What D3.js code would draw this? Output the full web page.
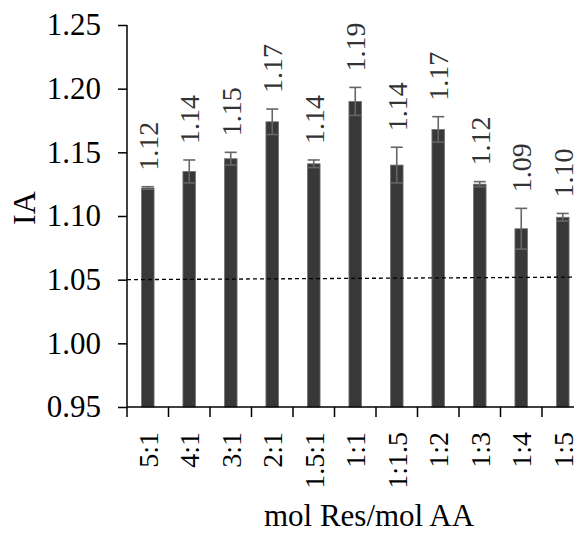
<!DOCTYPE html>
<html>
<head>
<meta charset="utf-8">
<script src="https://cdn.jsdelivr.net/npm/d3@7"></script>
<style>
  html, body { margin: 0; padding: 0; background: #fff; }
  svg { display: block; }
  svg text { font-family: "Liberation Serif", "Times New Roman", serif; }
</style>
</head>
<body>
<svg width="574" height="533"></svg>
<script>
// data
const ratios = ["5:1", "4:1", "3:1", "2:1", "1.5:1", "1:1", "1:1.5", "1:2", "1:3", "1:4", "1:5"];
const ia = [1.122, 1.135, 1.145, 1.174, 1.141, 1.190, 1.140, 1.168, 1.125, 1.090, 1.099];
const iaErr = [0.001, 0.009, 0.005, 0.010, 0.003, 0.011, 0.014, 0.010, 0.002, 0.016, 0.003];
const barLabels = ["1.12", "1.14", "1.15", "1.17", "1.14", "1.19", "1.14", "1.17", "1.12", "1.09", "1.10"];
const yTicks = [0.95, 1.00, 1.05, 1.10, 1.15, 1.20, 1.25];
const refLine = [1.05, 1.052]; // dashed line, left end / right end

const serif = '"Liberation Serif", "Times New Roman", serif';
const svg = d3.select('svg');
const mLeft = 127, mTop = 25, mBottom = 407;
const bandW = 41.5;

const x = d3.scaleBand().domain(ratios).range([mLeft, mLeft + bandW * ratios.length]).padding(0);
const y = d3.scaleLinear().domain([0.95, 1.25]).range([mBottom, mTop]);
const barW = x.bandwidth() * 0.305;

const data = ratios.map((r, i) => ({r, v: ia[i], e: iaErr[i], lab: barLabels[i]}));

//bars
svg.append('g').selectAll('rect').data(data).enter()
  .append('rect')
  .attr('x', d => x(d.r) + x.bandwidth() / 2 - barW / 2)
  .attr('y', d => y(d.v))
  .attr('width', barW)
  .attr('height', d => y(0.95) - y(d.v))
  .attr('fill', '#3a3836')
  .attr('stroke', '#777')
  .attr('stroke-width', 0.8);

//error bars
const eb = svg.append('g').attr('stroke', '#666').attr('stroke-width', 1.6);
data.forEach(d => {
  const cx = x(d.r) + x.bandwidth() / 2;
  eb.append('line').attr('x1', cx).attr('x2', cx).attr('y1', y(d.v - d.e)).attr('y2', y(d.v + d.e));
  eb.append('line').attr('x1', cx - 6).attr('x2', cx + 6).attr('y1', y(d.v + d.e)).attr('y2', y(d.v + d.e));
  eb.append('line').attr('x1', cx - 6).attr('x2', cx + 6).attr('y1', y(d.v - d.e)).attr('y2', y(d.v - d.e));
});

//value labels
svg.append('g').selectAll('text').data(data).enter()
  .append('text')
  .attr('transform', d => `translate(${x(d.r) + x.bandwidth() / 2},${y(d.v + d.e) - 16}) rotate(-90)`)
  .attr('dy', '0.35em')
  .attr('text-anchor', 'start')
  .attr('font-family', serif)
  .attr('font-size', 28)
  .attr('fill', '#333')
  .text(d => d.lab);

//dashed reference line
svg.append('line')
  .attr('x1', mLeft).attr('x2', 574)
  .attr('y1', y(refLine[0])).attr('y2', y(refLine[1]))
  .attr('stroke', '#000').attr('stroke-width', 1.3)
  .attr('stroke-dasharray', '4,3');

//y axis
const yAxis = svg.append('g').attr('transform', `translate(${mLeft},0)`)
  .call(d3.axisLeft(y).tickValues(yTicks).tickFormat(d3.format('.2f')).tickSize(9).tickPadding(17));
yAxis.select('.domain').attr('stroke', '#000').attr('stroke-width', 1.5).attr('d', `M0,${mTop}V${mBottom}`);
yAxis.selectAll('.tick line').attr('stroke-width', 1.5);
yAxis.selectAll('.tick text').attr('font-size', 31).attr('font-family', serif).attr('fill', '#000');

//x axis
const xg = svg.append('g').attr('transform', `translate(0,${mBottom})`);
xg.append('line').attr('x1', mLeft).attr('x2', 574).attr('y1', 0).attr('y2', 0)
  .attr('stroke', '#000').attr('stroke-width', 1.5);
xg.selectAll('line.tk').data(ratios).enter()
  .append('line').attr('class', 'tk')
  .attr('x1', d => x(d)).attr('x2', d => x(d))
  .attr('y1', 0).attr('y2', 10)
  .attr('stroke', '#000').attr('stroke-width', 1.5);
xg.selectAll('text').data(ratios).enter()
  .append('text')
  .attr('transform', d => `translate(${x(d) + x.bandwidth() / 2},25) rotate(-90)`)
  .attr('dy', '0.35em')
  .attr('text-anchor', 'end')
  .attr('font-family', serif)
  .attr('font-size', 28)
  .text(d => d);

//axis titles
svg.append('text')
  .attr('x', 369).attr('y', 526)
  .attr('text-anchor', 'middle')
  .attr('font-family', serif)
  .attr('font-size', 31)
  .text('mol Res/mol AA');

svg.append('text')
  .attr('transform', 'translate(35,208) rotate(-90)')
  .attr('text-anchor', 'middle')
  .attr('font-family', serif)
  .attr('font-size', 32)
  .text('IA');
</script>
</body>
</html>
